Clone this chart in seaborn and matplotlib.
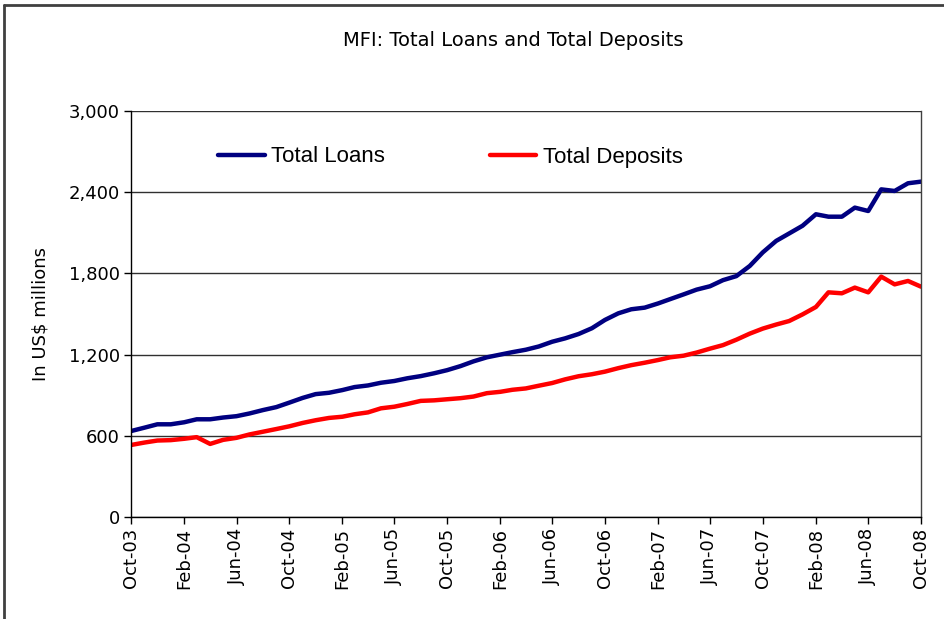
import pandas as pd, matplotlib.pyplot as plt
import seaborn as sns
import matplotlib.dates as mdates
import matplotlib.ticker as mticker
from matplotlib.lines import Line2D

# monthly data, Oct-03 .. Oct-08
months = pd.date_range('2003-10-01', '2008-10-01', freq='MS')

total_loans = [635, 660, 685, 685, 700, 722, 722, 735, 745, 765,
               790, 812, 845, 880, 908, 918, 938, 960, 972, 992,
               1005, 1025, 1041, 1062, 1085, 1115, 1150, 1180, 1200, 1218,
               1236, 1260, 1295, 1320, 1352, 1395, 1456, 1505, 1535, 1547,
               1578, 1610, 1645, 1680, 1705, 1750, 1780, 1855, 1955, 2040,
               2095, 2152, 2237, 2219, 2219, 2286, 2261, 2421, 2409, 2466,
               2478]

total_deposits = [532, 550, 565, 568, 578, 590, 540, 570, 585, 610,
                  630, 650, 670, 695, 715, 732, 741, 759, 773, 803,
                  815, 835, 858, 862, 870, 878, 890, 915, 925, 940,
                  950, 970, 990, 1017, 1040, 1055, 1074, 1100, 1122, 1140,
                  1160, 1180, 1192, 1215, 1244, 1270, 1310, 1355, 1392, 1422,
                  1448, 1497, 1552, 1660, 1653, 1695, 1660, 1776, 1719, 1744,
                  1702]

df = pd.DataFrame({'month': months, 'Total Loans': total_loans, 'Total Deposits': total_deposits})
df = df.melt(id_vars='month', var_name='series', value_name='value')

sns.set_style('white')
narrow = ['DejaVu Sans']
plt.rcParams['font.family'] = ['Liberation Sans', 'DejaVu Sans']
plt.rcParams['text.color'] = 'black'
plt.rcParams['axes.labelcolor'] = 'black'
plt.rcParams['xtick.color'] = 'black'
plt.rcParams['ytick.color'] = 'black'

fig = plt.figure(figsize=(9.45, 6.19), dpi=100)
ax = fig.add_axes([131/945, 1-517/619, 790/945, 406/619])

sns.lineplot(data=df, x='month', y='value', hue='series', ax=ax,
             palette={'Total Loans': '#000080', 'Total Deposits': '#ff0000'},
             linewidth=3.2, legend=False)

ax.set_xlim(months[0], months[-1])
ax.set_ylim(0, 3000)
ax.yaxis.set_major_locator(mticker.MultipleLocator(600))
ax.yaxis.set_major_formatter(mticker.FuncFormatter(lambda x, _: f'{int(x):,}'))
ax.xaxis.set_major_locator(mdates.MonthLocator(bymonth=[2, 6, 10]))
ax.xaxis.set_major_formatter(mdates.DateFormatter('%b-%y'))

ax.grid(axis='y', color='#303030', linewidth=1)
ax.set_axisbelow(True)
for s in ['left', 'bottom', 'right']:
    ax.spines[s].set_color('black')
    ax.spines[s].set_linewidth(1)
ax.spines['top'].set_visible(False)
ax.spines['right'].set_color('#404040')

ax.tick_params(axis='both', which='major', direction='out', length=5, width=1,
               color='black', labelcolor='black', bottom=True, left=True, pad=3)
for lab in ax.get_xticklabels():
    lab.set_rotation(90)
    lab.set_family(narrow)
    lab.set_fontsize(13)
for lab in ax.get_yticklabels():
    lab.set_family(narrow)
    lab.set_fontsize(13)

ax.set_xlabel('')
ax.set_ylabel('In US$ millions', family=narrow, fontsize=13, labelpad=14, color='black')

fig.text(513/945, 1-40/619, 'MFI: Total Loans and Total Deposits', ha='center', va='center',
         family=narrow, fontsize=14, color='black')

handles = [Line2D([], [], color='#000080', linewidth=3.2),
           Line2D([], [], color='#ff0000', linewidth=3.2)]
fig.legend(handles, ['Total Loans', 'Total Deposits'], loc='center left',
           bbox_to_anchor=(198/945, 1-157/619), ncol=2, frameon=False, fontsize=16,
           handlelength=2.1, handletextpad=0.3, columnspacing=4.7, labelcolor='black')

# outer frame (top and left only)
fig.add_artist(Line2D([4/945, 1], [1-5/619, 1-5/619], color='#404040', linewidth=2))
fig.add_artist(Line2D([4/945, 4/945], [0, 1-5/619], color='#404040', linewidth=2))

plt.savefig('out.png', dpi=100)
plt.close()
